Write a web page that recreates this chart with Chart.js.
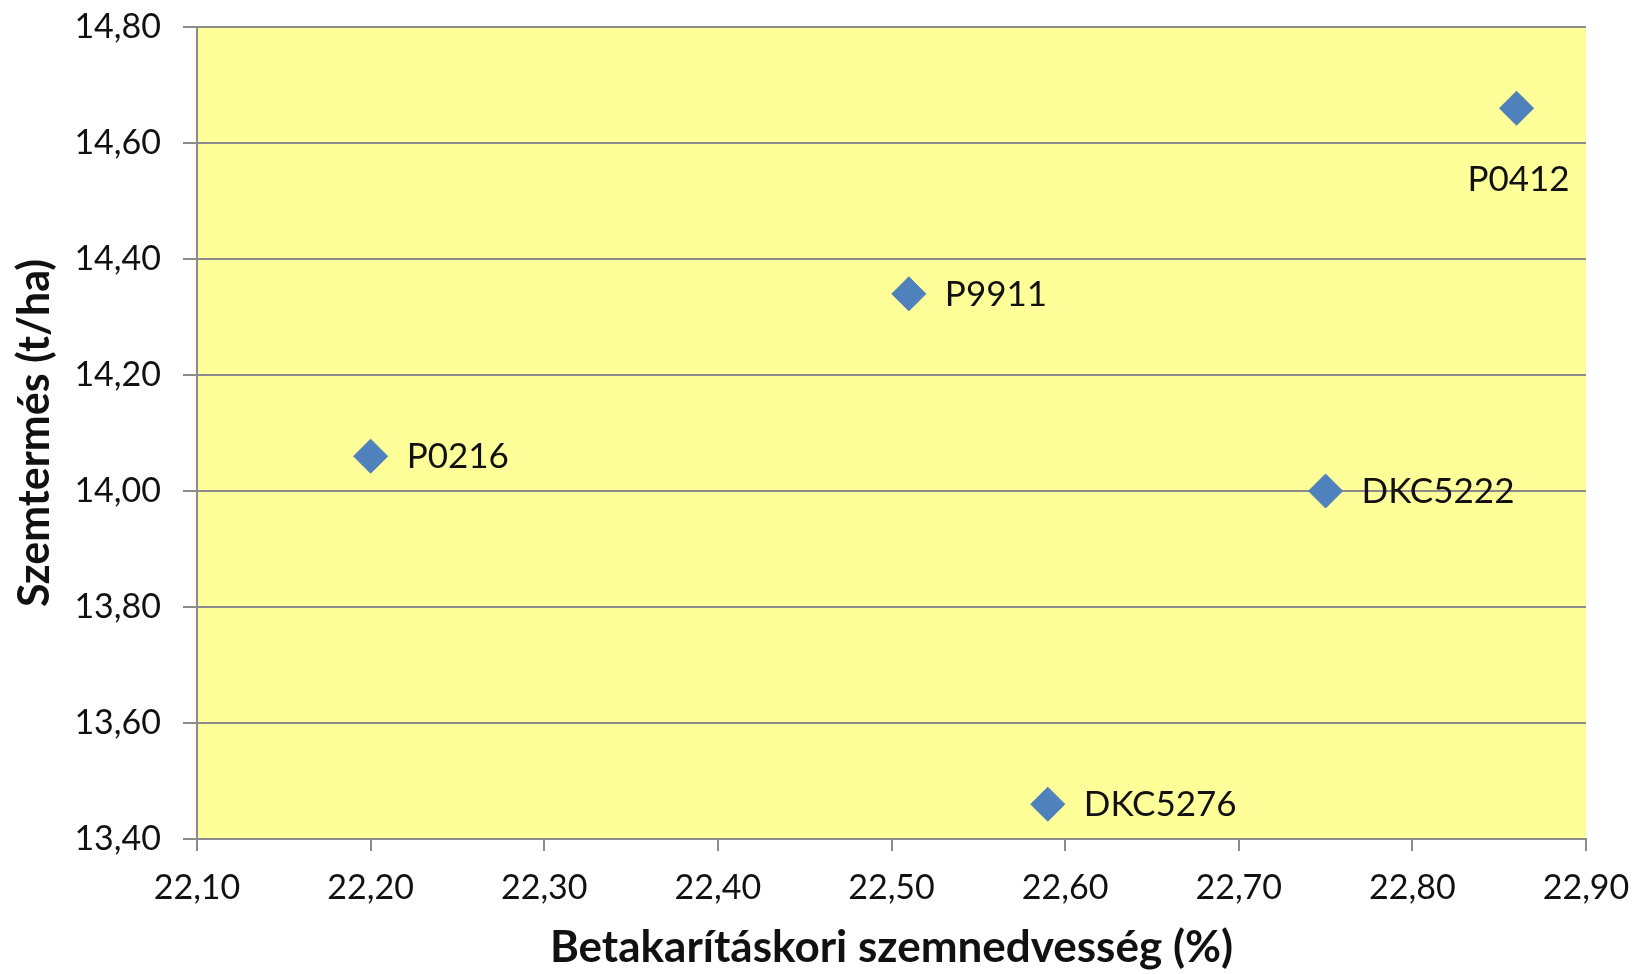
<!DOCTYPE html>
<html>
<head>
<meta charset="utf-8">
<script src="https://cdn.jsdelivr.net/npm/chart.js@4"></script>
<style>
  body { margin: 0; background: #fff; }
  #wrap { width: 1636px; height: 974px; position: relative; }
</style>
</head>
<body>
<div id="wrap"><canvas id="scatterChart"></canvas></div>
<script>
// Hybrids
const hybrids = ["P0216", "P9911", "DKC5276", "DKC5222", "P0412"];
// Harvest grain moisture (%)
const moisture = [22.20, 22.51, 22.59, 22.75, 22.86];
// Grain yield (t/ha)
const grainYield = [14.06, 14.34, 13.46, 14.00, 14.66];
// Tick values
const xTicks = [22.10, 22.20, 22.30, 22.40, 22.50, 22.60, 22.70, 22.80, 22.90];
const yTicks = [13.40, 13.60, 13.80, 14.00, 14.20, 14.40, 14.60, 14.80];

const fmt = v => Number(v).toFixed(2).replace(".", ",");
const FONT = "Lato, 'Open Sans', sans-serif";
const GRID = "#8c8c8c";

const plotBackground = {
    id: "plotBackground",
    beforeDraw(chart) {
        const { ctx, chartArea: a } = chart;
        ctx.save();
        ctx.fillStyle = "#ffff99";
        ctx.fillRect(a.left, a.top, a.right - a.left, a.bottom - a.top);
        ctx.restore();
    }
};

// hybrid name next to each diamond
const pointLabels = {
    id: "pointLabels",
    afterDatasetsDraw(chart) {
        const { ctx } = chart;
        const meta = chart.getDatasetMeta(0);
        ctx.save();
        ctx.font = "35px " + FONT;
        ctx.fillStyle = "#111";
        ctx.textBaseline = "middle";
        meta.data.forEach((pt, i) => {
            if (hybrids[i] === "P0412") {
                ctx.textAlign = "center";
                ctx.fillText(hybrids[i], pt.x + 2, pt.y + 72);
            } else {
                ctx.textAlign = "left";
                ctx.fillText(hybrids[i], pt.x + 36, pt.y + 1);
            }
        });
        ctx.restore();
    }
};

const noPad = s => {
    s.paddingTop = 0;
    s.paddingBottom = 0;
    s.paddingLeft = 0;
    s.paddingRight = 0;
};

new Chart(document.getElementById("scatterChart").getContext("2d"), {
    type: "scatter",
    data: {
        datasets: [{
            label: "Hibridek",
            data: moisture.map((m, i) => ({ x: m, y: grainYield[i] })),
            pointStyle: "rectRot",
            pointRadius: 17,
            pointHoverRadius: 17,
            backgroundColor: "#4f81bd",
            borderColor: "#4a7ebb",
            borderWidth: 1
        }]
    },
    options: {
        responsive: true,
        maintainAspectRatio: false,
        animation: false,
        layout: { padding: { top: 27, right: 50, left: 0, bottom: 0 } },
        plugins: {
            legend: { display: false },
            tooltip: { enabled: false }
        },
        scales: {
            x: {
                type: "linear",
                min: xTicks[0],
                max: xTicks[xTicks.length - 1],
                afterFit: s => { s.height = 135; noPad(s); },
                afterBuildTicks: s => { s.ticks = xTicks.map(v => ({ value: v })); },
                ticks: {
                    color: "#111",
                    font: { family: FONT, size: 34 },
                    padding: 17,
                    maxRotation: 0,
                    callback: v => fmt(v)
                },
                grid: { drawOnChartArea: false, drawTicks: true, tickLength: 12, color: GRID, lineWidth: 2 },
                border: { color: GRID, width: 2 },
                title: {
                    display: true,
                    text: "Betakarításkori szemnedvesség (%)",
                    color: "#111",
                    font: { family: FONT, size: 44, weight: "bold" },
                    padding: { top: 0, bottom: 0 }
                }
            },
            y: {
                type: "linear",
                min: yTicks[0],
                max: yTicks[yTicks.length - 1],
                afterFit: s => { s.width = 197; noPad(s); },
                afterBuildTicks: s => { s.ticks = yTicks.map(v => ({ value: v })); },
                ticks: {
                    color: "#111",
                    font: { family: FONT, size: 34 },
                    padding: 22,
                    callback: v => fmt(v)
                },
                grid: { color: GRID, lineWidth: 2, tickLength: 14 },
                border: { color: GRID, width: 2 },
                title: {
                    display: true,
                    text: "Szemtermés (t/ha)",
                    color: "#111",
                    font: { family: FONT, size: 43, weight: "bold" },
                    padding: { top: 9, bottom: 0 }
                }
            }
        }
    },
    plugins: [plotBackground, pointLabels]
});
</script>
</body>
</html>
